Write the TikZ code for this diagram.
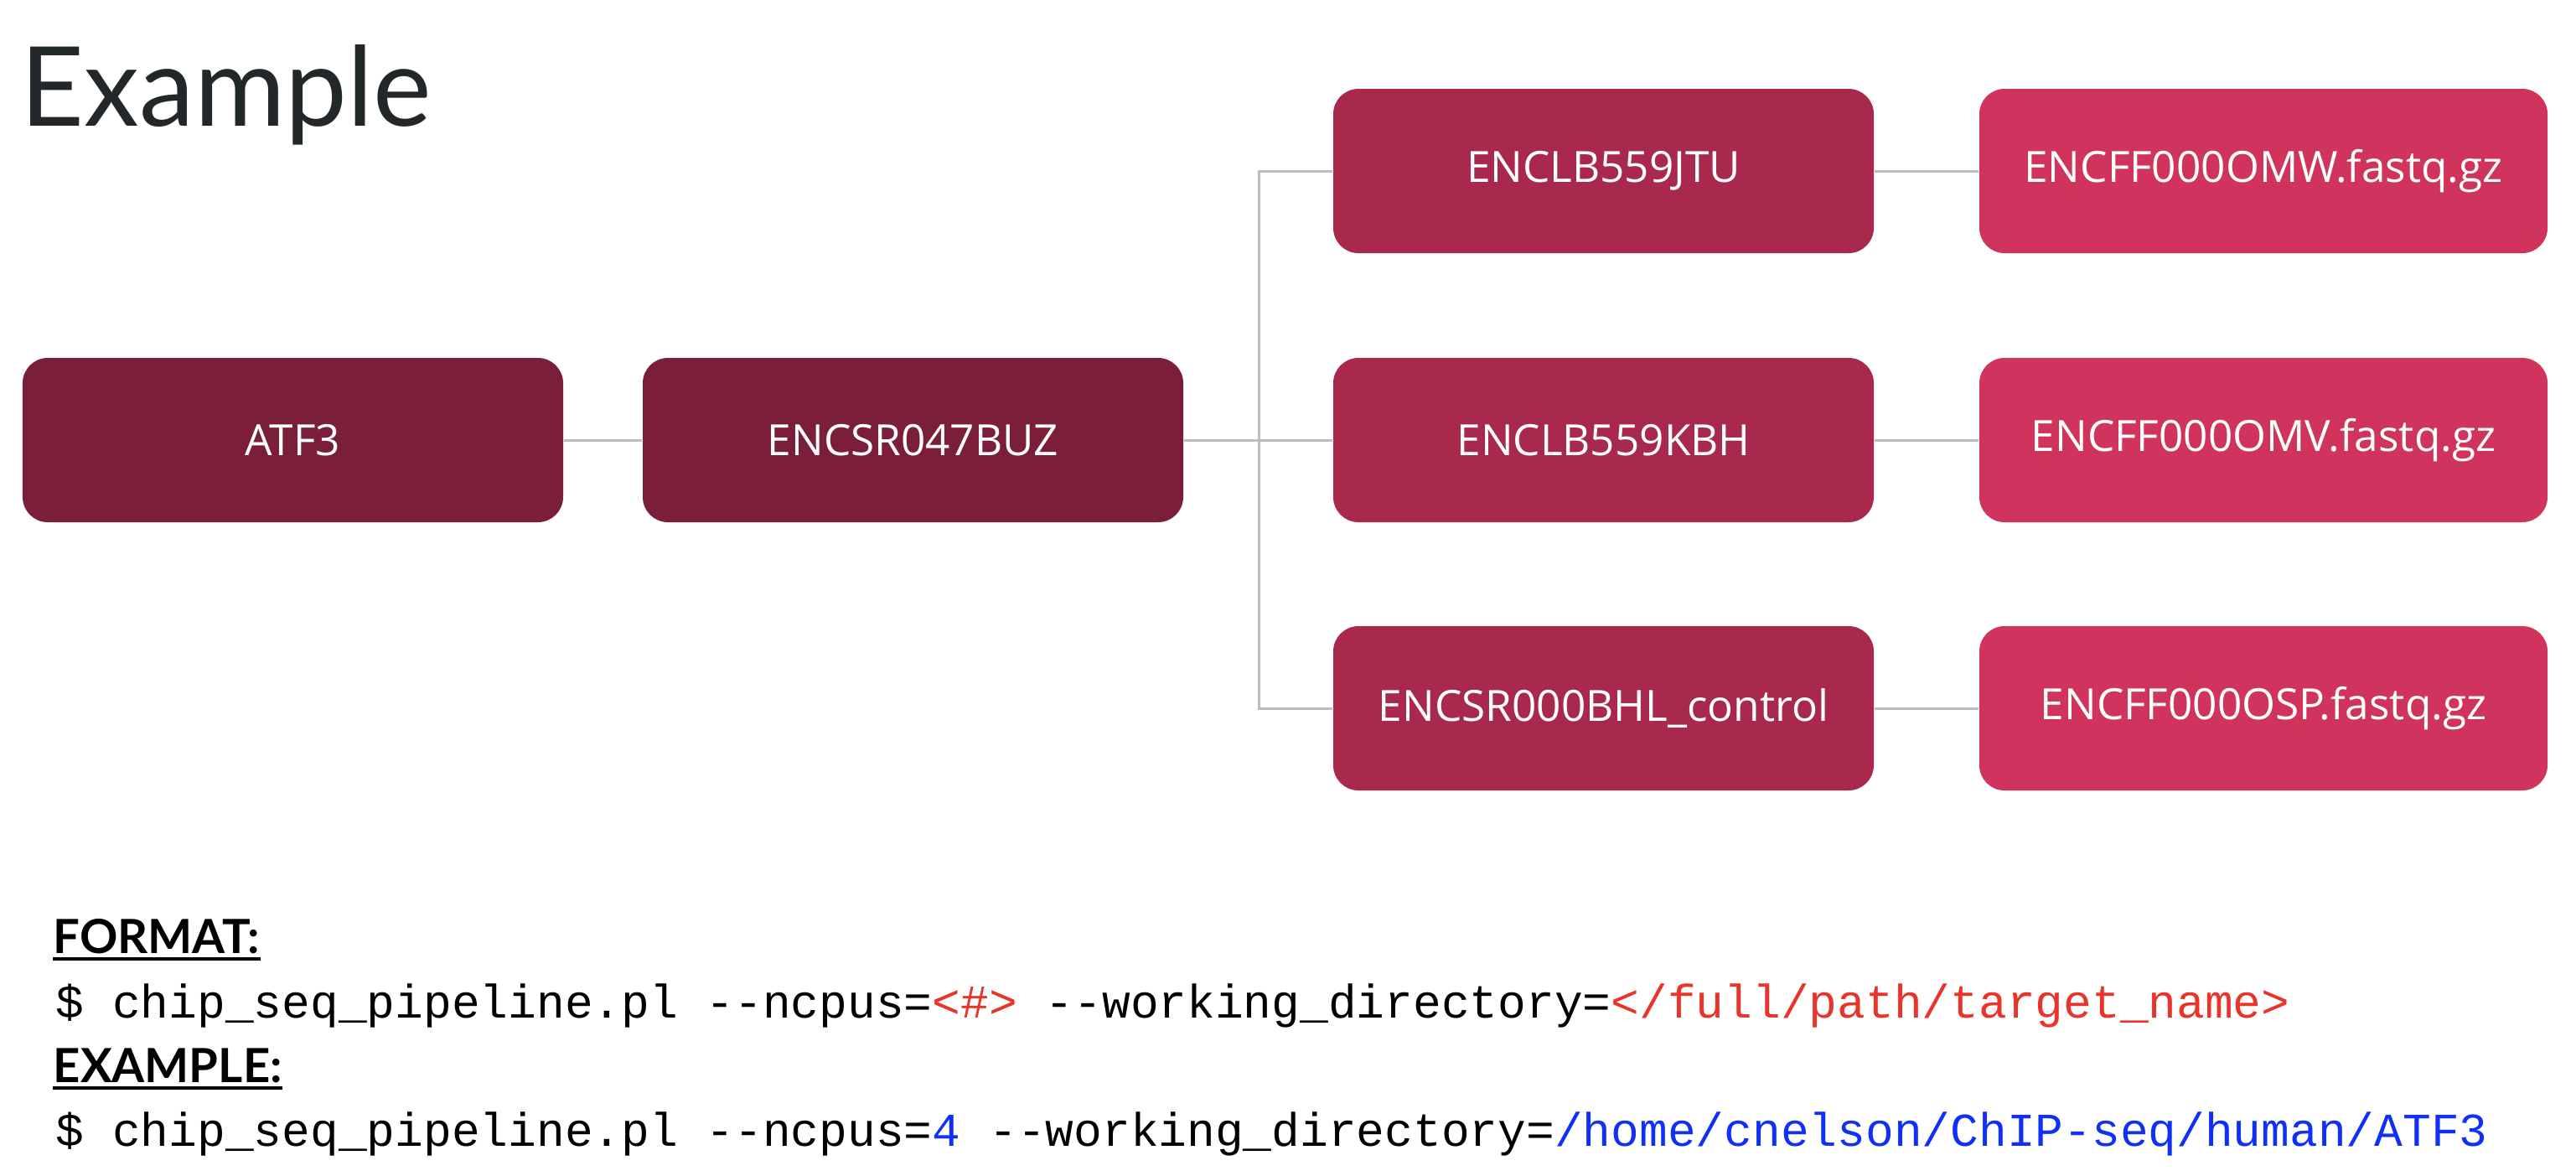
\documentclass[tikz,border=0pt]{standalone}
\usepackage{fontspec}
\setmainfont{Open Sans}
\newfontfamily\titlefont{Lato}
\setmonofont{Liberation Mono}
\usepackage{tikz}

\definecolor{targetred}{HTML}{7B1E3A}
\definecolor{libred}{HTML}{A8294B}
\definecolor{filered}{HTML}{D0345C}
\definecolor{linkgray}{HTML}{BDBDBD}
\definecolor{titlegray}{HTML}{222829}
\definecolor{argred}{HTML}{E8342A}
\definecolor{argblue}{HTML}{1030F5}

\tikzset{
  encbox/.style={rounded corners=0.3cm, minimum height=1.96cm, inner sep=0pt,
    text=white, font=\fontsize{14.6}{17}\selectfont},
  expbox/.style={encbox, fill=targetred, minimum width=6.45cm},
  libbox/.style={encbox, fill=libred, minimum width=6.45cm},
  filebox/.style={encbox, fill=filered, minimum width=6.78cm},
  link/.style={draw=linkgray, line width=0.03cm},
  headtext/.style={anchor=base west, inner sep=0pt, font=\titlefont\bfseries\fontsize{16}{19}\selectfont},
  cmdtext/.style={anchor=base west, inner sep=0pt, font=\ttfamily\fontsize{16}{19}\selectfont}
}

\begin{document}
\begin{tikzpicture}
\useasboundingbox (0,0) rectangle (30.74,-14.02);

\node [anchor=base west, inner sep=0pt, text=titlegray, font=\titlefont\fontsize{37.5}{42}\selectfont] (title) at (0.24,-1.50) {Example};

% target and experiment
\node [expbox] (atf) at (3.495,-5.25) {ATF3};
\node [expbox] (expt) at (10.895,-5.25) {ENCSR047BUZ};

% libraries
\node [libbox] (libA) at (19.135,-2.04) {ENCLB559JTU};
\node [libbox] (libB) at (19.135,-5.25) {ENCLB559KBH};
\node [libbox] (ctrl) at (19.135,-8.45) {ENCSR000BHL\_control};

% fastq files
\node [filebox] (fqA) at (27.01,-2.04) {ENCFF000OMW.fastq.gz};
\node [filebox] (fqB) at (27.01,-5.25) {ENCFF000OMV.fastq.gz};
\node [filebox] (fqC) at (27.01,-8.45) {ENCFF000OSP.fastq.gz};

\coordinate (fork) at (15.02,-5.25);

\draw [link] (atf.east) -- (expt.west);
\draw [link] (expt.east) -- (fork);
\draw [link] (fork) |- (libA.west);
\draw [link] (fork) -- (libB.west);
\draw [link] (fork) |- (ctrl.west);
\draw [link] (libA.east) -- (fqA.west);
\draw [link] (libB.east) -- (fqB.west);
\draw [link] (ctrl.east) -- (fqC.west);

% command lines
\node [headtext] (fmthead) at (0.63,-11.37) {FORMAT:};
\draw [line width=0.04cm] ([yshift=-0.07cm]fmthead.base west) -- ([yshift=-0.07cm]fmthead.base east);
\node [cmdtext] (fmtline) at (0.66,-12.14) {\$ chip\_seq\_pipeline.pl --ncpus=\textcolor{argred}{<\#>} --working\_directory=\textcolor{argred}{</full/path/target\_name>}};

\node [headtext] (exhead) at (0.63,-12.91) {EXAMPLE:};
\draw [line width=0.04cm] ([yshift=-0.07cm]exhead.base west) -- ([yshift=-0.07cm]exhead.base east);
\node [cmdtext] (exline) at (0.66,-13.67) {\$ chip\_seq\_pipeline.pl --ncpus=\textcolor{argblue}{4} --working\_directory=\textcolor{argblue}{/home/cnelson/ChIP-seq/human/ATF3}};

\end{tikzpicture}
\end{document}
